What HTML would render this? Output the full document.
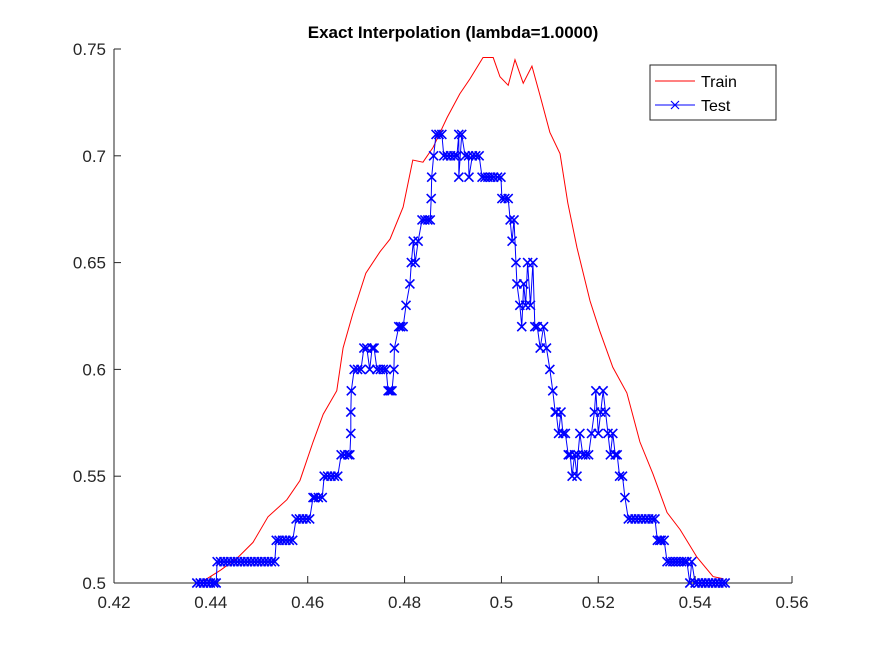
<!DOCTYPE html>
<html><head><meta charset="utf-8"><style>
body{margin:0;background:#fff;}
svg{display:block;font-family:"Liberation Sans",sans-serif;}
</style></head><body>
<svg id="chart" width="875" height="656">
<rect width="875" height="656" fill="#fff"/>
<text x="453" y="38" text-anchor="middle" font-size="17" font-weight="bold" fill="#000">Exact Interpolation (lambda=1.0000)</text>
<g id="axes"></g>
<g id="series"></g>
<g>
<rect x="650" y="65" width="126" height="55" fill="#fff" stroke="#262626" stroke-width="1"/>
<line x1="655" y1="81" x2="695" y2="81" stroke="#f00" stroke-width="1"/>
<text x="701" y="87" font-size="16" fill="#000">Train</text>
<line x1="655" y1="105" x2="695" y2="105" stroke="#00f" stroke-width="1"/>
<path d="M671,101L679,109M679,101L671,109" stroke="#00f" stroke-width="1.2"/>
<text x="701" y="111" font-size="16" fill="#000">Test</text>
</g>
</svg>
<script>
const xTicks=[0.42,0.44,0.46,0.48,0.5,0.52,0.54,0.56];
const xTickLabels=["0.42","0.44","0.46","0.48","0.5","0.52","0.54","0.56"];
const yTicks=[0.5,0.55,0.6,0.65,0.7,0.75];
const yTickLabels=["0.5","0.55","0.6","0.65","0.7","0.75"];
const trainX=[0.4375,0.4392,0.4420,0.4456,0.4487,0.4518,0.4557,0.4584,0.4611,0.4632,0.4660,0.4673,0.4693,0.4720,0.4749,0.4770,0.4797,0.4817,0.4838,0.4859,0.4888,0.4914,0.4935,0.4962,0.4983,0.4997,0.5014,0.5028,0.5045,0.5063,0.5080,0.5100,0.5121,0.5137,0.5156,0.5183,0.5203,0.5230,0.5259,0.5286,0.5313,0.5342,0.5369,0.5404,0.5437,0.5458];
const trainY=[0.500,0.502,0.506,0.512,0.519,0.531,0.539,0.548,0.566,0.579,0.590,0.610,0.626,0.645,0.655,0.661,0.676,0.698,0.697,0.704,0.718,0.729,0.736,0.746,0.746,0.737,0.733,0.745,0.734,0.742,0.728,0.711,0.701,0.678,0.657,0.632,0.618,0.601,0.589,0.566,0.551,0.533,0.525,0.512,0.503,0.502];
const testX=[0.4371,0.4378,0.4385,0.4392,0.4399,0.4406,0.4411,0.4413,0.4420,0.4427,0.4434,0.4441,0.4448,0.4455,0.4462,0.4469,0.4476,0.4483,0.4490,0.4497,0.4504,0.4511,0.4518,0.4525,0.4532,0.4535,0.4541,0.4548,0.4555,0.4562,0.4569,0.4576,0.4583,0.4590,0.4597,0.4604,0.4611,0.4615,0.4622,0.4630,0.4634,0.4641,0.4648,0.4655,0.4662,0.4669,0.4676,0.4683,0.4687,0.4689,0.4689,0.4690,0.4696,0.4703,0.4710,0.4716,0.4722,0.4728,0.4733,0.4737,0.4743,0.4750,0.4756,0.4762,0.4766,0.4770,0.4774,0.4778,0.4779,0.4788,0.4792,0.4797,0.4803,0.4811,0.4814,0.4818,0.4822,0.4828,0.4836,0.4842,0.4848,0.4853,0.4855,0.4856,0.4860,0.4865,0.4871,0.4877,0.4881,0.4888,0.4895,0.4902,0.4908,0.4912,0.4912,0.4918,0.4925,0.4932,0.4933,0.4940,0.4947,0.4954,0.4960,0.4966,0.4972,0.4978,0.4984,0.4992,0.4999,0.5001,0.5007,0.5014,0.5018,0.5022,0.5026,0.5030,0.5032,0.5038,0.5042,0.5046,0.5050,0.5054,0.5060,0.5065,0.5069,0.5074,0.5080,0.5087,0.5093,0.5100,0.5106,0.5111,0.5113,0.5118,0.5123,0.5127,0.5132,0.5138,0.5142,0.5146,0.5151,0.5156,0.5158,0.5162,0.5168,0.5174,0.5180,0.5186,0.5192,0.5195,0.5200,0.5205,0.5210,0.5215,0.5220,0.5225,0.5230,0.5235,0.5239,0.5244,0.5250,0.5255,0.5262,0.5269,0.5276,0.5283,0.5290,0.5297,0.5304,0.5311,0.5317,0.5322,0.5327,0.5330,0.5336,0.5342,0.5348,0.5354,0.5360,0.5366,0.5372,0.5378,0.5383,0.5389,0.5393,0.5400,0.5407,0.5414,0.5421,0.5428,0.5435,0.5442,0.5449,0.5456,0.5462,0.5468];
const testY=[0.50,0.50,0.50,0.50,0.50,0.50,0.50,0.51,0.51,0.51,0.51,0.51,0.51,0.51,0.51,0.51,0.51,0.51,0.51,0.51,0.51,0.51,0.51,0.51,0.51,0.52,0.52,0.52,0.52,0.52,0.52,0.53,0.53,0.53,0.53,0.53,0.54,0.54,0.54,0.54,0.55,0.55,0.55,0.55,0.55,0.56,0.56,0.56,0.56,0.57,0.58,0.59,0.60,0.60,0.60,0.61,0.61,0.60,0.61,0.61,0.60,0.60,0.60,0.60,0.59,0.59,0.59,0.60,0.61,0.62,0.62,0.62,0.63,0.64,0.65,0.66,0.65,0.66,0.67,0.67,0.67,0.67,0.68,0.69,0.70,0.71,0.71,0.71,0.70,0.70,0.70,0.70,0.70,0.71,0.69,0.71,0.70,0.70,0.69,0.70,0.70,0.70,0.69,0.69,0.69,0.69,0.69,0.69,0.69,0.68,0.68,0.68,0.67,0.66,0.67,0.65,0.64,0.63,0.62,0.64,0.63,0.65,0.63,0.65,0.62,0.62,0.61,0.62,0.61,0.60,0.59,0.58,0.58,0.57,0.58,0.57,0.57,0.56,0.56,0.55,0.56,0.55,0.56,0.57,0.56,0.56,0.56,0.57,0.58,0.59,0.57,0.58,0.59,0.58,0.57,0.56,0.57,0.56,0.56,0.55,0.55,0.54,0.53,0.53,0.53,0.53,0.53,0.53,0.53,0.53,0.53,0.52,0.52,0.52,0.52,0.51,0.51,0.51,0.51,0.51,0.51,0.51,0.51,0.50,0.51,0.50,0.50,0.50,0.50,0.50,0.50,0.50,0.50,0.50,0.50];

const NS='http://www.w3.org/2000/svg';
const X0=114,X1=792,Y0=583,Y1=49;
const xs=v=>X0+(v-0.42)/(0.56-0.42)*(X1-X0);
const ys=v=>Y0-(v-0.5)/(0.75-0.5)*(Y0-Y1);
function mk(tag,attrs,parent){const e=document.createElementNS(NS,tag);for(const k in attrs)e.setAttribute(k,attrs[k]);parent.appendChild(e);return e;}
const axes=document.getElementById('axes'),series=document.getElementById('series');
let a=mk('line',{x1:X0,y1:Y0,x2:X1,y2:Y0,stroke:'#262626','stroke-width':1},axes);


a=mk('line',{x1:X0,y1:Y0,x2:X0,y2:Y1,stroke:'#262626','stroke-width':1},axes);


xTicks.forEach((v,i)=>{const x=xs(v);
 const t=mk('line',{x1:x,y1:Y0,x2:x,y2:Y0-7,stroke:'#262626'},axes);
 
 
 const l=mk('text',{x:x,y:Y0+25,'text-anchor':'middle','font-size':17,fill:'#262626'},axes);l.textContent=xTickLabels[i];
 
 
});
yTicks.forEach((v,i)=>{const y=ys(v);
 const t=mk('line',{x1:X0,y1:y,x2:X0+7,y2:y,stroke:'#262626'},axes);
 
 
 const l=mk('text',{x:X0-8,y:y+6,'text-anchor':'end','font-size':17,fill:'#262626'},axes);l.textContent=yTickLabels[i];
 
 
});
let p=mk('polyline',{points:trainX.map((x,i)=>xs(x)+','+ys(trainY[i])).join(' '),fill:'none',stroke:'#f00','stroke-width':1},series);


p=mk('polyline',{points:testX.map((x,i)=>xs(x)+','+ys(testY[i])).join(' '),fill:'none',stroke:'#00f','stroke-width':1},series);


testX.forEach((x,i)=>{const cx=xs(x),cy=ys(testY[i]);
 const m=mk('path',{d:`M${cx-4.5},${cy-4.5}L${cx+4.5},${cy+4.5}M${cx+4.5},${cy-4.5}L${cx-4.5},${cy+4.5}`,stroke:'#00f','stroke-width':1.6},series);
 
 
});
</script>
</body></html>
